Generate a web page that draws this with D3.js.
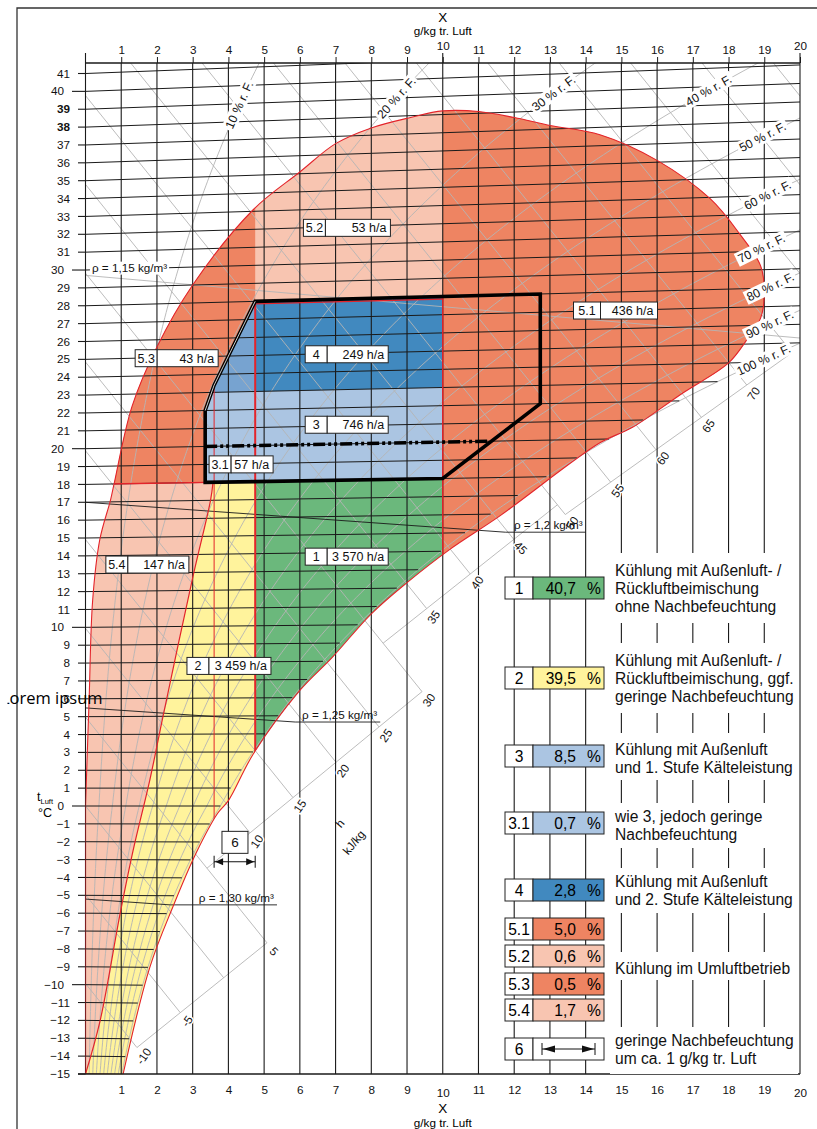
<!DOCTYPE html>
<html>
<head>
<meta charset="utf-8">
<script src="https://cdn.jsdelivr.net/npm/d3@7"></script>
<style>
  body { margin: 0; background: #fff; }
  svg { display: block; font-family: "Liberation Sans", Arial, sans-serif; }
</style>
</head>
<body>
<script>

// ---------- values ----------
var xTicks = d3.range(0, 21);                 // X, g/kg tr. Luft
var tempTicks = d3.range(-15, 42);            // t Luft, °C
var boldTemps = [38, 39];
var rhLevels = [0.1, 0.2, 0.3, 0.4, 0.5, 0.6, 0.7, 0.8, 0.9, 1.0];
var rhLabelX = [4.3, 8.7, 13.1, 17.44, 18.95, 19.09, 18.92, 19.17, 19.15, 18.98];
var enthalpyLines = [-10, -5, 0, 5, 10, 15, 20, 25, 30, 35, 40, 45, 50, 55, 60, 65, 70, 75, 80, 85, 90];
var enthalpyLabels = [-10, -5, 5, 10, 15, 20, 25, 30, 35, 40, 45, 50, 55, 60, 65, 70];
// enthalpy scale pieces in the fog area: [h from, x at h from, h to, x at h to]
var enthalpyScale = [[-10, 1.44, 5, 5.08], [5, 3.40, 30, 9.42], [30, 8.33, 50, 13.21], [50, 13.43, 75, 19.78]];

// envelope of outside air states [x g/kg, t °C]
var envelope = [[0, -15], [0, 0], [0.1, 5.9], [0.2, 11.5], [0.4, 14.9], [0.7, 17.1], [0.8, 18.0],
  [1.3, 22.3], [2.0, 25.6], [3.0, 29.0], [4.7, 33.1], [6.0, 35.1], [7.0, 36.6], [8.0, 37.4],
  [9.1, 37.9], [10.0, 38.2], [11.0, 38.1], [12.0, 37.7], [13.0, 37.2], [14.4, 36.6], [16.0, 35.1],
  [17.5, 32.9], [18.3, 31.0], [18.9, 29.2], [19.0, 27.7], [18.9, 26.4], [18.5, 25.2], [18.0, 24.0],
  [16.7, 22.4], [15.3, 20.6], [14.4, 19.8], [11.6, 15.9], [10.2, 14.1], [9.0, 12.3], [8.0, 10.6],
  [6.9, 8.2], [6.0, 6.4], [4.7, 2.9], [4.0, 0.3], [3.7, -0.4], [3.1, -2.6], [2.45, -5.6],
  [1.8, -9.0], [1.05, -15]];
// limit between field 5.4 and field 2
var humidLimit = [[0, -15], [0.41, -12.0], [0.97, -6.0], [1.33, -2.5], [1.8, 1.45], [2.17, 5.0],
  [3.0, 12.7], [3.5, 17.0], [3.57, 18.0]];
var boxOutline = [[3.35, 18], [3.35, 22], [3.6, 23.4], [4.75, 28], [12.73, 28], [12.73, 22], [10, 18]];
var humidLine = [[3.35, 20], [11.3, 20]];
var xLimits = [3.6, 4.75, 10];       // field borders, g/kg
var tLimits = [18, 23, 28];          // field borders, °C

var regionIds = ["1", "2", "3", "3.1", "4", "5.1", "5.2", "5.3", "5.4"];
var regionHours = [3570, 3459, 746, 57, 249, 436, 53, 43, 147];
var regionLabelAt = [[6.15, 13.8], [2.84, 7.8], [6.15, 21.1], [3.46, 19.0], [6.15, 25.0],
  [13.66, 27.05], [6.1, 32.0], [1.39, 25.0], [0.57, 13.5]];

var legendIds = ["1", "2", "3", "3.1", "4", "5.1", "5.2", "5.3", "5.4", "6"];
var legendShares = [40.7, 39.5, 8.5, 0.7, 2.8, 5.0, 0.6, 0.5, 1.7, null];
var legendTexts = [
  ["Kühlung mit Außenluft- /", "Rückluftbeimischung", "ohne Nachbefeuchtung"],
  ["Kühlung mit Außenluft- /", "Rückluftbeimischung, ggf.", "geringe Nachbefeuchtung"],
  ["Kühlung mit Außenluft", "und 1. Stufe Kälteleistung"],
  ["wie 3, jedoch geringe", "Nachbefeuchtung"],
  ["Kühlung mit Außenluft", "und 2. Stufe Kälteleistung"],
  ["Kühlung im Umluftbetrieb"],
  ["geringe Nachbefeuchtung", "um ca. 1 g/kg tr. Luft"]];

var densityNames = ["1,15", "1,2", "1,25", "1,30"];
var densityLines = [[[0, 29.7], [20, 25.26]], [[0, 17.0], [11.75, 15.0]], [[0, 5.49], [5.87, 4.65]], [[0, -5.21], [2.37, -5.51]]];
var densityUnderlineTo = [null, 14, 8.25, 5.36];

// ---------- layout ----------
var X0 = 85.5, X1 = 800, YTOP = 63, YBOT = 1074;
var colors = { "1": "#6bb87c", "2": "#fff39c", "3": "#abc5e2", "3.1": "#abc5e2", "4": "#4189bf",
  "5.1": "#ee8462", "5.2": "#f8c5b1", "5.3": "#ee8462", "5.4": "#f8c5b1", "6": "#fff" };
var midBlue = "#77a3d0", red = "#e3242b", gray = "#b4b4b4";
var labelIdW = [22, 22, 22, 22, 22, 27, 22, 22, 22];
var labelValW = [61, 62, 61, 42, 61, 57, 65, 61, 61];
var legendRowTop = [577, 667, 745, 812, 879, 918, 945, 973, 999, 1038];
var legendTextTop = [576, 666, 755, 822, 887, 974, 1046];
var legendBg = [[553, 623], [643, 713], [733, 780], [803, 848], [868, 913], [952, 980], [1027, 1074]];
var FS = 11.7, LFS = 15.6;

var loc = d3.formatLocale({ decimal: ",", thousands: " ", grouping: [3], currency: ["", ""] });
var fmtHours = loc.format(","), fmtShare = loc.format(".1f");

// ---------- h,x projection ----------
var xScale = d3.scaleLinear().domain([0, 20]).range([X0, X1]);
var yScale = d3.scaleLinear().domain([0, 41.246]).range([806, 73.5]);
function P(x, t) { return [xScale(x), yScale(t * (1.006 + 0.00186 * x))]; }
function PH(x, h) { return [xScale(x), yScale(h - 2.501 * x)]; }
function psat(t) { return t >= 0 ? 611.2 * Math.exp(17.62 * t / (243.12 + t)) : 611.2 * Math.exp(22.46 * t / (272.62 + t)); }
function xOf(t, phi) { var pw = phi * psat(t); return 622 * pw / (101325 - pw); }
function tAt(x, phi) { var pw = x * 101325 / (622 + x), L = Math.log(pw / phi / 611.2); return 243.12 * L / (17.62 - L); }
function hOf(x, t) { return 1.006 * t + x * (2.501 + 0.00186 * t); }
function satCross(h) {
  var lo = -30, hi = 60;
  for (var i = 0; i < 60; i++) { var m = (lo + hi) / 2; if (hOf(xOf(m, 1), m) < h) lo = m; else hi = m; }
  return [xOf(lo, 1), lo];
}
function intersect(p1, p2, p3, p4) {
  var d = (p1[0] - p2[0]) * (p3[1] - p4[1]) - (p1[1] - p2[1]) * (p3[0] - p4[0]);
  var a = p1[0] * p2[1] - p1[1] * p2[0], b = p3[0] * p4[1] - p3[1] * p4[0];
  return [(a * (p3[0] - p4[0]) - (p1[0] - p2[0]) * b) / d, (a * (p3[1] - p4[1]) - (p1[1] - p2[1]) * b) / d];
}
function proj(pts) { return pts.map(function (d) { return P(d[0], d[1]); }); }
function poly(pts) { return "M" + proj(pts).join("L") + "Z"; }
function box(x0, x1, t0, t1) { return [[x0, t0], [x1, t0], [x1, t1], [x0, t1]]; }
var smooth = d3.line().curve(d3.curveCatmullRom.alpha(0.5));
var straight = d3.line();

var svg = d3.select("body").append("svg").attr("width", 817).attr("height", 1129);
var defs = svg.append("defs");
defs.append("clipPath").attr("id", "plot").append("rect")
  .attr("x", X0).attr("y", YTOP).attr("width", X1 - X0).attr("height", YBOT - YTOP);
var envPath = "M" + P(0, -15) + smooth(proj(envelope.slice(1))).replace("M", "L") + "Z";
defs.append("clipPath").attr("id", "env").append("path").attr("d", envPath);
defs.append("clipPath").attr("id", "lorem").append("rect").attr("x", 7.5).attr("y", 680).attr("width", 200).attr("height", 40);

// frame
svg.append("path").attr("d", "M17,1129V8H817").attr("fill", "none").attr("stroke", "#333").attr("stroke-width", 1.3);

// ---------- fields ----------
var fg = svg.append("g").attr("clip-path", "url(#env)");
fg.append("path").attr("d", poly(box(-1, 21, -16, 45))).attr("fill", colors["5.4"]);
fg.append("path").attr("d", poly(box(10, 21, -16, 45))).attr("fill", colors["5.1"]);
fg.append("path").attr("d", poly(box(-1, 4.75, 18, 45))).attr("fill", colors["5.3"]);
fg.append("path").attr("d", smooth(proj(humidLimit)) + "L" + [P(4.75, 18), P(4.75, -16), P(0, -16)].join("L") + "Z")
  .attr("fill", colors["2"]);
fg.append("path").attr("d", poly(box(4.75, 10, -16, 18))).attr("fill", colors["1"]);
fg.append("path").attr("d", poly(boxOutline.slice(0, 4).concat([[10, 28], [10, 18]]))).attr("fill", colors["3"]);
fg.append("path").attr("d", poly(box(4.75, 10, 23, 28))).attr("fill", colors["4"]);
fg.append("path").attr("d", poly([[3.51, 23], [3.6, 23.4], [4.75, 28], [4.75, 23]])).attr("fill", midBlue);

// ---------- gray lines: enthalpy, rel. humidity, density 1,15 ----------
var gg = svg.append("g").attr("clip-path", "url(#plot)").attr("fill", "none")
  .attr("stroke", gray).attr("stroke-width", 0.9);
var yTopVal = yScale.invert(YTOP);
var hLabelPos = {};
enthalpyLines.forEach(function (h) {
  var xs0 = Math.max(0, (h - yTopVal) / 2.501);
  var sc = satCross(h), xe = Math.min(20, sc[0]);
  if (xe > xs0) gg.append("path").attr("d", straight([PH(xs0, h), PH(xe, h)]));
  if (sc[0] > 20) return;
  var S = P(sc[0], sc[1]), best = null, bd = -1;
  enthalpyScale.forEach(function (s) {
    if (h < s[0] || h > s[2]) return;
    var I = intersect(PH(0, h), PH(10, h), PH(s[1], s[0]), PH(s[3], s[2]));
    var dd = Math.hypot(I[0] - S[0], I[1] - S[1]);
    if (dd > bd) { bd = dd; best = I; }
  });
  if (best) { gg.append("path").attr("d", straight([S, best])); hLabelPos[h] = best; }
});
enthalpyScale.forEach(function (s) {
  gg.append("path").attr("d", straight([PH(s[1], s[0]), PH(s[3], s[2])]));
});
rhLevels.forEach(function (phi) {
  var pts = [];
  for (var t = -15; t <= 45; t += 0.25) { var x = xOf(t, phi); pts.push([x, t]); if (x > 20.5) break; }
  gg.append("path").attr("d", smooth(proj(pts)));
});
gg.append("path").attr("d", straight(proj(densityLines[0])));

// ---------- black grid ----------
var bg = svg.append("g").attr("clip-path", "url(#plot)").attr("stroke", "#1a1a1a").attr("fill", "none");
tempTicks.forEach(function (t) {
  var xe = Math.min(20, xOf(t, 1));
  bg.append("path").attr("d", straight([P(0, t), P(xe, t)])).attr("stroke-width", 1);
});
densityLines.slice(1).forEach(function (dl, i) {
  var a = P(dl[0][0], dl[0][1]), b = P(dl[1][0], dl[1][1]);
  bg.append("path").attr("d", straight([a, b, [xScale(densityUnderlineTo[i + 1]), b[1]]])).attr("stroke-width", 0.9);
});
svg.append("g").attr("stroke", "#1a1a1a").selectAll("line").data(xTicks).join("line")
  .attr("x1", function (d) { return xScale(d); }).attr("x2", function (d) { return xScale(d); })
  .attr("y1", function (d) { return d % 10 === 0 ? 53 : YTOP; }).attr("y2", YBOT)
  .attr("stroke-width", 1.1);

// ---------- red field borders ----------
var rg = svg.append("g").attr("clip-path", "url(#env)").attr("fill", "none").attr("stroke", red);
rg.append("path").attr("d", smooth(proj(humidLimit))).attr("stroke-width", 1.2);
rg.append("path").attr("d", straight(proj([[0, tLimits[0]], [10, tLimits[0]]]))).attr("stroke-width", 1.4);
rg.append("path").attr("d", straight(proj([[xLimits[0], -16], [xLimits[0], 23.4]]))).attr("stroke-width", 1);
rg.append("path").attr("d", straight(proj([[xLimits[1], -16], [xLimits[1], tLimits[2]]]))).attr("stroke-width", 2);
rg.append("path").attr("d", straight(proj([[xLimits[2], -16], [xLimits[2], tLimits[2]]]))).attr("stroke-width", 1.4);
rg.append("path").attr("d", straight(proj([[xLimits[1], tLimits[2]], [xLimits[2], tLimits[2]]])))
  .attr("stroke-width", 1.4).attr("transform", "translate(0,2.5)");
svg.append("path").attr("d", envPath).attr("fill", "none").attr("stroke", red).attr("stroke-width", 1.1)
  .attr("clip-path", "url(#plot)");

// box of 3 / 4 and humidifying line
svg.append("path").attr("d", poly(boxOutline)).attr("fill", "none").attr("stroke", "#000")
  .attr("stroke-width", 3.6).attr("stroke-linejoin", "miter");
svg.append("path").attr("d", straight(proj(boxOutline.slice(1, 4)))).attr("fill", "none").attr("stroke", "#fff")
  .attr("stroke-width", 0.8);
svg.append("path").attr("d", straight(proj(humidLine))).attr("stroke", "#000").attr("stroke-width", 3.6)
  .attr("stroke-dasharray", "12,3,3,3,3,3");

// ---------- labels in chart ----------
var lab = svg.append("g").attr("fill", "#111");
// rel. humidity
rhLevels.forEach(function (phi, i) {
  var x = rhLabelX[i], a = P(x - 0.08, tAt(x - 0.08, phi)), b = P(x + 0.08, tAt(x + 0.08, phi));
  var c = P(x, tAt(x, phi)), ang = Math.atan2(b[1] - a[1], b[0] - a[0]) * 180 / Math.PI;
  var g = lab.append("g").attr("transform", "translate(" + c + ") rotate(" + ang + ")");
  var r = g.append("rect").attr("fill", "#fff");
  var tx = g.append("text").attr("text-anchor", "middle").attr("dy", "0.35em").attr("font-size", 12.2)
    .attr("fill", "#111").text(Math.round(phi * 100) + " % r. F.");
  var w = tx.node().getComputedTextLength();
  r.attr("x", -w / 2 - 2).attr("y", -7).attr("width", w + 4).attr("height", 14);
});
// enthalpy
enthalpyLabels.forEach(function (h) {
  var p = hLabelPos[h]; if (!p) return;
  var q = [p[0] + 0.626 * 11, p[1] + 0.779 * 11];
  lab.append("text").attr("transform", "translate(" + q + ") rotate(" + (h === 5 || h === 45 ? 45 : -55) + ")")
    .attr("text-anchor", "middle").attr("dy", "0.35em").attr("font-size", FS).attr("fill", "#111")
    .attr("stroke", "#fff").attr("stroke-width", 3).attr("paint-order", "stroke")
    .text(h < 0 ? "-" + (-h) : h);
});
lab.append("text").attr("transform", "translate(343,826) rotate(-50)").attr("text-anchor", "middle")
  .attr("font-size", FS).text("h");
lab.append("text").attr("transform", "translate(357,845) rotate(-50)").attr("text-anchor", "middle")
  .attr("font-size", FS).text("kJ/kg");
// density
densityNames.forEach(function (n, i) {
  var txt = "ρ = " + n + " kg/m³";
  if (i === 0) {
    var p = P(0.18, 29.9);
    var dg = lab.append("g");
    var r0 = dg.append("rect").attr("fill", "#fff");
    var t0 = dg.append("text").attr("x", p[0]).attr("y", p[1]).attr("font-size", FS).text(txt);
    var w = t0.node().getComputedTextLength();
    r0.attr("x", p[0] - 2).attr("y", p[1] - 10).attr("width", w + 4).attr("height", 13);
  } else {
    var e = P(densityLines[i][1][0], densityLines[i][1][1]);
    lab.append("text").attr("x", xScale(densityUnderlineTo[i]) - 3).attr("y", e[1] - 3)
      .attr("text-anchor", "end").attr("font-size", FS).text(txt);
  }
});
// field boxes
regionIds.forEach(function (id, i) {
  var p = P(regionLabelAt[i][0], regionLabelAt[i][1]), w1 = labelIdW[i], w2 = labelValW[i];
  var g = lab.append("g").attr("transform", "translate(" + p[0] + "," + (p[1] - 8.5) + ")");
  g.append("rect").attr("width", w1).attr("height", 17).attr("fill", "#fff").attr("stroke", "#222");
  g.append("rect").attr("x", w1).attr("width", w2).attr("height", 17).attr("fill", "#fff").attr("stroke", "#222");
  g.append("text").attr("x", w1 / 2).attr("y", 13).attr("text-anchor", "middle").attr("font-size", 12.5).text(id);
  g.append("text").attr("x", w1 + w2 - 4).attr("y", 13).attr("text-anchor", "end").attr("font-size", 12.5)
    .text(fmtHours(regionHours[i]) + " h/a");
});
// field 6 in chart
function arrowPath(xa, xb, y) {
  return "M" + xa + "," + (y - 6) + "V" + (y + 6) + "M" + xb + "," + (y - 6) + "V" + (y + 6) +
    "M" + xa + "," + y + "H" + xb;
}
function arrowHeads(xa, xb, y, L) {
  return "M" + (xa + 1) + "," + y + "l" + L + ",-3.5v7Z" + "M" + (xb - 1) + "," + y + "l" + (-L) + ",-3.5v7Z";
}
(function () {
  var p = P(3.82, -2.02);
  lab.append("rect").attr("x", p[0]).attr("y", p[1] - 11).attr("width", 26).attr("height", 22)
    .attr("fill", "#fff").attr("stroke", "#222");
  lab.append("text").attr("x", p[0] + 13).attr("y", p[1] + 5).attr("text-anchor", "middle").attr("font-size", 13.5).text("6");
  var a = P(xLimits[0], -3.1), b = P(xLimits[1], -3.1);
  lab.append("path").attr("d", arrowPath(a[0], b[0], a[1])).attr("stroke", "#111").attr("fill", "none");
  lab.append("path").attr("d", arrowHeads(a[0], b[0], a[1], 8)).attr("fill", "#111");
})();

// ---------- axes ----------
var ax = svg.append("g").attr("stroke", "#1a1a1a").attr("stroke-width", 1.3);
ax.append("line").attr("x1", X0).attr("x2", X1).attr("y1", YTOP).attr("y2", YTOP);
ax.append("line").attr("x1", 78).attr("x2", X1).attr("y1", YBOT).attr("y2", YBOT);

var topAx = svg.append("g").attr("transform", "translate(0," + YTOP + ")")
  .call(d3.axisTop(xScale).tickValues(d3.range(1, 21)).tickSize(6).tickPadding(3).tickSizeOuter(0));
topAx.select(".domain").remove();
topAx.attr("font-size", FS).attr("font-family", null);
topAx.selectAll("line").attr("stroke", "#1a1a1a");
topAx.selectAll("text").attr("fill", "#111");
topAx.selectAll(".tick").filter(function (d) { return d % 10 === 0; }).select("text").attr("y", -13);

var botAx = svg.append("g").attr("transform", "translate(0," + YBOT + ")")
  .call(d3.axisBottom(xScale).tickValues(d3.range(1, 21)).tickSize(0).tickPadding(12));
botAx.select(".domain").remove();
botAx.attr("font-size", FS).attr("font-family", null);
botAx.selectAll("text").attr("fill", "#111");
botAx.selectAll(".tick").filter(function (d) { return d % 10 === 0; }).select("text").attr("y", 15);

svg.append("text").attr("x", xScale(10)).attr("y", 22).attr("text-anchor", "middle").attr("font-size", 13.5).text("X");
svg.append("text").attr("x", xScale(10)).attr("y", 35).attr("text-anchor", "middle").attr("font-size", FS).text("g/kg tr. Luft");
svg.append("text").attr("x", xScale(10)).attr("y", 1113).attr("text-anchor", "middle").attr("font-size", 13.5).text("X");
svg.append("text").attr("x", xScale(10)).attr("y", 1127).attr("text-anchor", "middle").attr("font-size", FS).text("g/kg tr. Luft");

var lt = svg.append("g");
tempTicks.forEach(function (t) {
  var y = P(0, t)[1], dec = t % 10 === 0;
  lt.append("line").attr("x1", dec ? 72 : 78).attr("x2", X0).attr("y1", y).attr("y2", y)
    .attr("stroke", "#1a1a1a").attr("stroke-width", 1.1);
  lt.append("text").attr("x", dec ? 64 : 70).attr("y", y).attr("dy", "0.35em").attr("text-anchor", "end")
    .attr("font-size", FS).attr("fill", "#111")
    .attr("font-weight", boldTemps.indexOf(t) >= 0 ? "bold" : null)
    .text(t < 0 ? "\u2212" + (-t) : t);
});
var tl = svg.append("text").attr("x", 37).attr("y", 801).attr("font-size", 12.5);
tl.append("tspan").text("t");
tl.append("tspan").attr("font-size", 7.5).attr("dy", 3).text("Luft");
svg.append("text").attr("x", 38).attr("y", 817).attr("font-size", 12.5).text("°C");

svg.append("text").attr("x", 1).attr("y", 704).attr("font-family", "Open Sans").attr("font-size", 16.5)
  .attr("clip-path", "url(#lorem)").text("Lorem ipsum");

// ---------- legend ----------
var lg = svg.append("g");
legendBg.forEach(function (b) {
  lg.append("rect").attr("x", 610).attr("y", b[0]).attr("width", 188).attr("height", b[1] - b[0]).attr("fill", "#fff");
});
legendTexts.forEach(function (lines, i) {
  var t = lg.append("text").attr("x", 615).attr("y", legendTextTop[i]).attr("font-size", LFS).attr("fill", "#111");
  lines.forEach(function (s, j) { t.append("tspan").attr("x", 615).attr("dy", j ? 18 : 0).text(s); });
});
legendIds.forEach(function (id, i) {
  var y = legendRowTop[i];
  lg.append("rect").attr("x", 505).attr("y", y).attr("width", 28).attr("height", 22).attr("fill", "#fff").attr("stroke", "#222");
  lg.append("rect").attr("x", 533).attr("y", y).attr("width", 71).attr("height", 22).attr("fill", colors[id]).attr("stroke", "#222");
  lg.append("text").attr("x", 519).attr("y", y + 16.5).attr("text-anchor", "middle").attr("font-size", LFS).text(id);
  if (legendShares[i] !== null) {
    lg.append("text").attr("x", 576).attr("y", y + 16.5).attr("text-anchor", "end").attr("font-size", LFS)
      .text(fmtShare(legendShares[i]));
    lg.append("text").attr("x", 587).attr("y", y + 16.5).attr("font-size", LFS).text("%");
  } else {
    lg.append("path").attr("d", arrowPath(542, 595, y + 11)).attr("stroke", "#111").attr("fill", "none");
    lg.append("path").attr("d", arrowHeads(542, 595, y + 11, 12)).attr("fill", "#111");
  }
});

</script>
</body>
</html>
